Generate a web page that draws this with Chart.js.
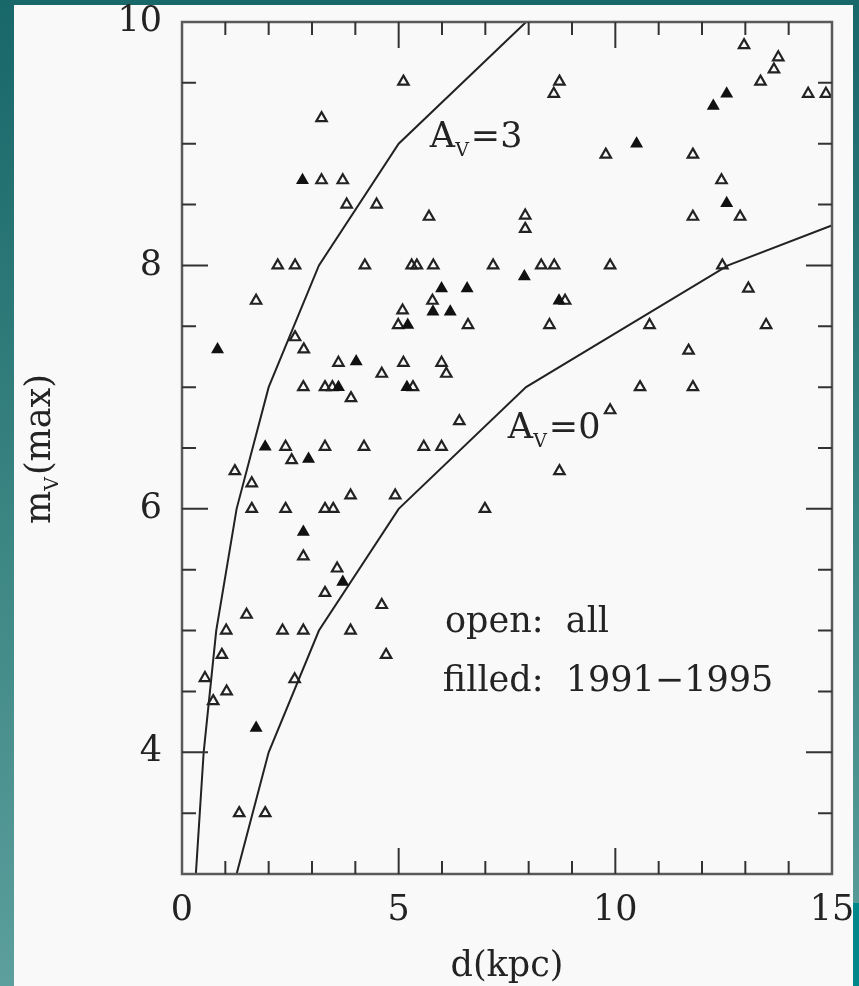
<!DOCTYPE html>
<html>
<head>
<meta charset="utf-8">
<script src="https://cdn.jsdelivr.net/npm/chart.js@4.4.1/dist/chart.umd.min.js"></script>
<style>
  html, body { margin: 0; padding: 0; }
  body {
    width: 859px; height: 986px; position: relative; overflow: hidden;
    background: linear-gradient(to bottom, #186769 0%, #3c8684 55%, #5c9f9c 100%);
  }
  #panel { position: absolute; left: 14px; top: 5px; width: 839px; height: 981px; background: #f9f9f9; }
  #corner { position: absolute; left: 853px; top: 903px; width: 6px; height: 83px; background: #00878a; }
  #chart { position: absolute; left: 0; top: 0; }
</style>
</head>
<body>
<div id="panel"></div>
<div id="corner"></div>
<canvas id="chart" width="859" height="986"></canvas>
<script>
    // open triangles: all novae
    const openD = [5.11, 3.22, 8.71, 8.58, 3.22, 3.71, 3.80, 4.49, 5.70, 7.92, 7.92,
        2.21, 2.61, 4.22, 5.30, 5.42, 5.80, 7.18, 8.29, 8.59,
        1.71, 5.78, 8.84, 5.09, 4.99, 6.60, 8.48,
        2.61, 2.81, 3.61, 5.11, 5.99, 4.61, 6.10,
        2.80, 3.30, 3.47, 5.33, 3.90, 6.40,
        2.39, 3.30, 4.20, 5.58, 5.99, 2.53, 8.71, 1.22, 1.61,
        3.89, 4.92, 1.61, 2.39, 3.30, 3.49, 6.99,
        2.80, 3.58, 3.30, 4.61, 1.49, 1.02, 2.32, 2.80, 3.89,
        0.92, 4.71, 0.53, 2.60, 1.03, 0.72, 1.32, 1.92,
        12.97, 13.76, 13.66, 13.35, 14.45, 14.86, 9.78, 11.79, 12.45, 11.79, 12.88,
        9.88, 12.47, 13.07, 10.79, 13.48, 11.69, 10.57, 11.79, 9.88];
    const openM = [9.51, 9.21, 9.51, 9.41, 8.70, 8.70, 8.50, 8.50, 8.40, 8.41, 8.30,
        8.0, 8.0, 8.0, 8.0, 8.0, 8.0, 8.0, 8.0, 8.0,
        7.71, 7.71, 7.71, 7.63, 7.51, 7.51, 7.51,
        7.41, 7.31, 7.20, 7.20, 7.20, 7.11, 7.11,
        7.0, 7.0, 7.0, 7.0, 6.91, 6.72,
        6.51, 6.51, 6.51, 6.51, 6.51, 6.40, 6.31, 6.31, 6.21,
        6.11, 6.11, 6.0, 6.0, 6.0, 6.0, 6.0,
        5.61, 5.51, 5.31, 5.21, 5.13, 5.0, 5.0, 5.0, 5.0,
        4.80, 4.80, 4.61, 4.60, 4.50, 4.42, 3.50, 3.50,
        9.81, 9.71, 9.61, 9.51, 9.41, 9.41, 8.91, 8.91, 8.70, 8.40, 8.40,
        8.0, 8.0, 7.81, 7.51, 7.51, 7.30, 7.0, 7.0, 6.81];

    // filled triangles: novae of 1991-1995
    const filledD = [2.78, 7.90, 5.99, 6.58, 8.70, 5.79, 6.19, 5.21, 0.82, 4.02, 3.61,
        5.19, 1.92, 2.92, 2.80, 3.71, 1.71, 12.57, 12.26, 10.49, 12.57];
    const filledM = [8.70, 7.91, 7.81, 7.81, 7.71, 7.62, 7.62, 7.51, 7.31, 7.21, 7.0,
        7.0, 6.51, 6.41, 5.81, 5.40, 4.20, 9.41, 9.31, 9.0, 8.51];

    // extinction curves
    const av3D = [0.32, 0.50, 0.79, 1.26, 2.0, 3.16, 5.0, 7.94];
    const av3M = [3, 4, 5, 6, 7, 8, 9, 10];
    const av0D = [1.26, 2.0, 3.16, 5.0, 7.94, 12.6, 19.9];
    const av0M = [3, 4, 5, 6, 7, 8, 9];

    const xTicks = [0, 5, 10, 15];
    const yTicks = [4, 6, 8, 10];

    const SERIF = "'DejaVu Serif', serif";
    const INK = '#232323';

    function pairs(xs, ys) {
        return xs.map((v, i) => ({ x: v, y: ys[i] }));
    }

    // text with a subscript, e.g. A_V=3
    function drawSub(ctx, x, y, main, sub, rest, size) {
        ctx.font = size + 'px ' + SERIF;
        ctx.fillText(main, x, y);
        let w = ctx.measureText(main).width;
        ctx.font = Math.round(size * 0.55) + 'px ' + SERIF;
        ctx.fillText(sub, x + w, y + size * 0.24);
        w += ctx.measureText(sub).width + 2;
        ctx.font = size + 'px ' + SERIF;
        ctx.fillText(rest, x + w, y);
    }

    function subWidth(ctx, main, sub, rest, size) {
        ctx.font = size + 'px ' + SERIF;
        let w = ctx.measureText(main).width + ctx.measureText(rest).width;
        ctx.font = Math.round(size * 0.55) + 'px ' + SERIF;
        return w + ctx.measureText(sub).width + 2;
    }

    const framePlugin = {
        id: 'frame',
        afterDatasetsDraw(chart) {
            const { ctx, chartArea: a, scales: { x, y } } = chart;
            ctx.save();
            ctx.strokeStyle = '#5a5a5a';
            ctx.lineWidth = 2.5;
            ctx.strokeRect(a.left, a.top, a.right - a.left, a.bottom - a.top);

            // inward ticks on all four sides
            ctx.strokeStyle = '#333';
            ctx.lineWidth = 2;
            ctx.beginPath();
            for (let v = 1; v < 15; v++) {
                const px = x.getPixelForValue(v);
                const len = xTicks.includes(v) ? 26 : 13;
                ctx.moveTo(px, a.bottom); ctx.lineTo(px, a.bottom - len);
                ctx.moveTo(px, a.top); ctx.lineTo(px, a.top + len);
            }
            for (let v = 3.5; v < 10; v += 0.5) {
                const py = y.getPixelForValue(v);
                const len = yTicks.includes(v) ? 26 : 14;
                ctx.moveTo(a.left, py); ctx.lineTo(a.left + len, py);
                ctx.moveTo(a.right, py); ctx.lineTo(a.right - len, py);
            }
            ctx.stroke();

            // annotations
            ctx.fillStyle = INK;
            ctx.textBaseline = 'alphabetic';
            ctx.textAlign = 'left';
            drawSub(ctx, x.getPixelForValue(5.72), y.getPixelForValue(8.97), 'A', 'V', '=3', 35);
            drawSub(ctx, x.getPixelForValue(7.52), y.getPixelForValue(6.58), 'A', 'V', '=0', 35);
            ctx.font = '35px ' + SERIF;
            ctx.fillText('open:  all', x.getPixelForValue(6.07), y.getPixelForValue(4.99));
            ctx.fillText('filled:  1991\u22121995', x.getPixelForValue(6.02), y.getPixelForValue(4.50));

            // y axis title m_V(max)
            ctx.translate(50, 449);
            ctx.rotate(-Math.PI / 2);
            const w = subWidth(ctx, 'm', 'V', '(max)', 35);
            drawSub(ctx, -w / 2, 0, 'm', 'V', '(max)', 35);
            ctx.restore();
        }
    };

    const ctx = document.getElementById('chart').getContext('2d');
    new Chart(ctx, {
        type: 'scatter',
        data: {
            datasets: [{
                label: 'filled: 1991-1995',
                data: pairs(filledD, filledM),
                pointStyle: 'triangle',
                pointRadius: 6,
                pointBorderWidth: 1.5,
                pointBorderColor: '#111',
                pointBackgroundColor: '#111'
            }, {
                label: 'open: all',
                data: pairs(openD, openM),
                pointStyle: 'triangle',
                pointRadius: 6,
                pointBorderWidth: 2.2,
                pointBorderColor: '#222',
                pointBackgroundColor: 'rgba(0,0,0,0)'
            }, {
                type: 'line',
                label: 'Av=3',
                data: pairs(av3D, av3M),
                showLine: true,
                borderColor: '#222',
                borderWidth: 2,
                pointRadius: 0,
                tension: 0,
                fill: false
            }, {
                type: 'line',
                label: 'Av=0',
                data: pairs(av0D, av0M),
                showLine: true,
                borderColor: '#222',
                borderWidth: 2,
                pointRadius: 0,
                tension: 0,
                fill: false
            }]
        },
        options: {
            responsive: false,
            animation: false,
            devicePixelRatio: 1,
            layout: { padding: { top: 22, right: 27, bottom: 0, left: 0 } },
            plugins: { legend: { display: false }, tooltip: { enabled: false } },
            scales: {
                x: {
                    type: 'linear', min: 0, max: 15,
                    afterBuildTicks: s => { s.ticks = xTicks.map(v => ({ value: v })); },
                    afterFit: s => { s.height = 112; s.paddingLeft = 0; s.paddingRight = 0; },
                    grid: { display: false },
                    border: { display: false },
                    ticks: { font: { family: SERIF, size: 35 }, color: INK, padding: 8, maxRotation: 0 },
                    title: {
                        display: true, text: 'd(kpc)', color: INK,
                        font: { family: SERIF, size: 35, lineHeight: 1 },
                        padding: { top: 0, bottom: 2 }
                    }
                },
                y: {
                    type: 'linear', min: 3, max: 10,
                    afterBuildTicks: s => { s.ticks = yTicks.map(v => ({ value: v })); },
                    afterFit: s => { s.width = 182; s.paddingTop = 0; s.paddingBottom = 0; },
                    grid: { display: false },
                    border: { display: false },
                    ticks: { font: { family: SERIF, size: 35 }, color: INK, padding: 12 }
                }
            }
        },
        plugins: [framePlugin]
    });
</script>
</body>
</html>
